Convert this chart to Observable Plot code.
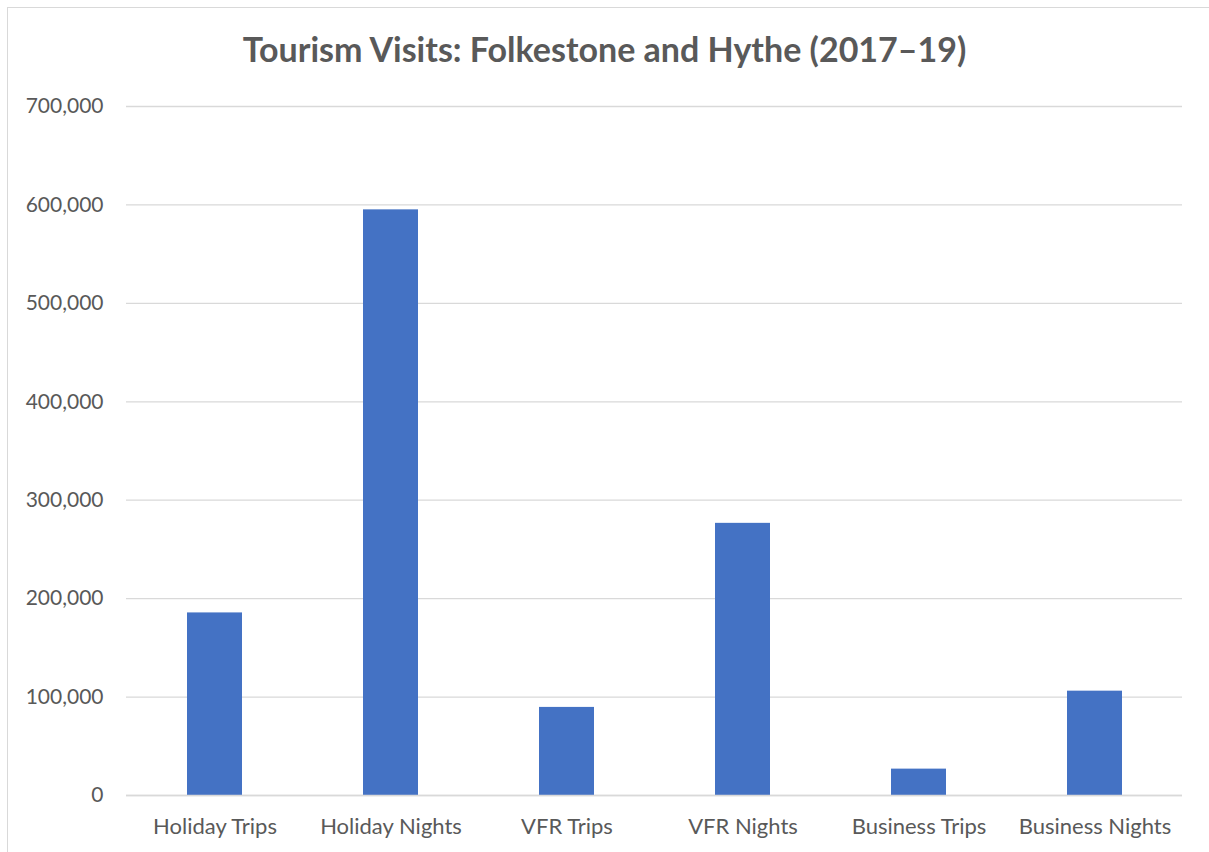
<!DOCTYPE html>
<html>
<head>
<meta charset="utf-8">
<script src="https://cdn.jsdelivr.net/npm/d3@7"></script>
<script src="https://cdn.jsdelivr.net/npm/@observablehq/plot@0.6"></script>
<style>
  html, body { margin: 0; padding: 0; background: #fff; }
  #wrap { position: relative; width: 1209px; height: 852px; overflow: hidden; }
  #frame { position: absolute; left: 7px; top: 7px; width: 1220px; height: 870px; border: 1px solid #d9d9d9; box-sizing: border-box; }
  #title { position: absolute; left: 0; top: 28px; width: 1209px; text-align: center;
           font-family: Lato, "Open Sans", sans-serif; font-weight: bold; font-size: 34px; color: #595959; }
  #chart { position: absolute; left: 0; top: 0; }
</style>
</head>
<body>
<div id="wrap">
  <div id="frame"></div>
  <div id="chart"></div>
  <div id="title">Tourism Visits: Folkestone and Hythe (2017–19)</div>
</div>
<script>
const categories = ["Holiday Trips", "Holiday Nights", "VFR Trips", "VFR Nights", "Business Trips", "Business Nights"];
const values = [185500, 595000, 89500, 276500, 26800, 106000];
const yTicks = [0, 100000, 200000, 300000, 400000, 500000, 600000, 700000];

const data = categories.map((c, i) => ({category: c, value: values[i]}));
const fmt = d3.format(",");

const plot = Plot.plot({
  width: 1209,
  height: 852,
  marginTop: 106,
  marginBottom: 57,
  marginLeft: 126,
  marginRight: 27,
  style: {fontFamily: "Lato, 'Open Sans', sans-serif", fontSize: "21px", color: "#595959", background: "transparent"},
  x: {domain: categories, paddingInner: 0.6875, paddingOuter: 0.34375, label: null},
  y: {domain: [0, 700000], label: null},
  marks: [
    Plot.ruleY(yTicks, {stroke: "#d9d9d9", strokeWidth: 1.3}),
    Plot.barY(data, {x: "category", y: "value", fill: "#4472C4"}),
    Plot.ruleY([0], {stroke: "#d9d9d9", strokeWidth: 1.5}),
    Plot.axisY({ticks: yTicks, tickFormat: fmt, tickSize: 0, tickPadding: 23, fill: "#595959", label: null, fontSize: 21}),
    Plot.axisX({tickSize: 0, tickPadding: 23, fill: "#595959", label: null, fontSize: 22})
  ]
});
document.getElementById("chart").appendChild(plot);
</script>
</body>
</html>
